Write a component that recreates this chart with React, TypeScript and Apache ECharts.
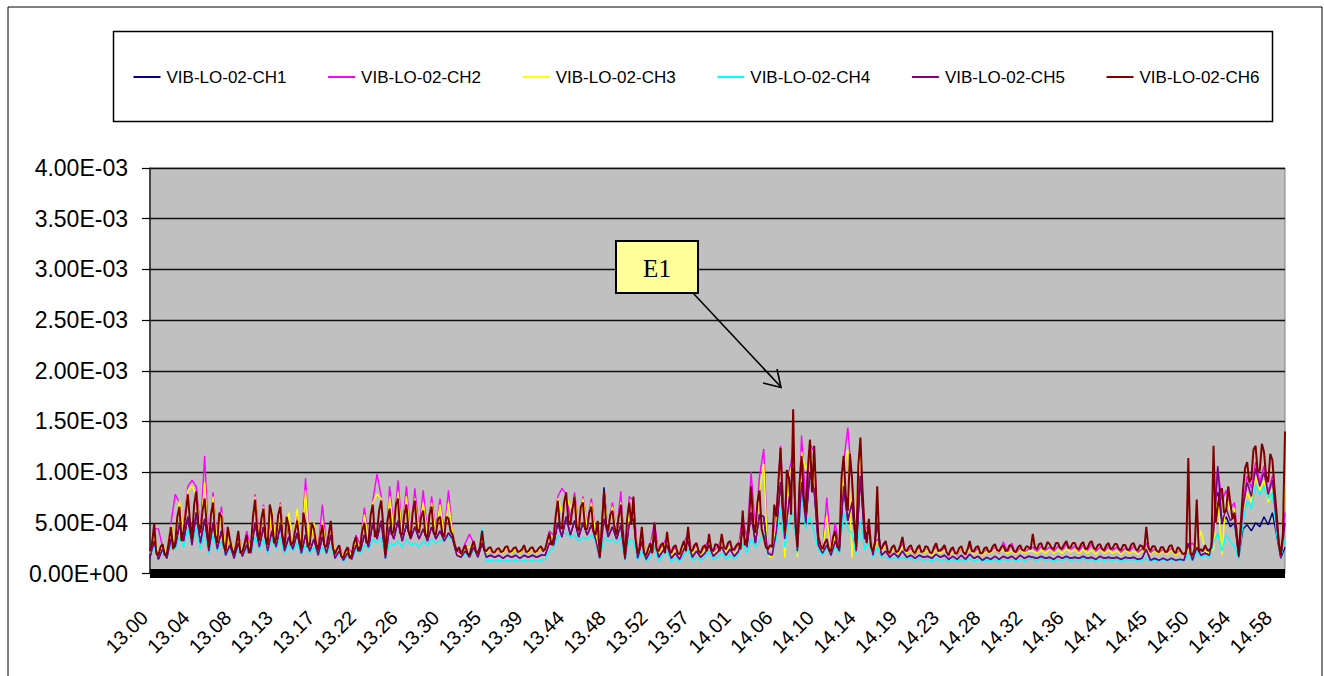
import React, { useEffect, useRef } from 'react';
import * as echarts from 'echarts';

// Tick labels of the time axis (one every 10 base samples)
const TICK_LABELS = ['13.00','13.04','13.08','13.13','13.17','13.22','13.26','13.30','13.35','13.39','13.44','13.48','13.52','13.57','14.01','14.06','14.10','14.14','14.19','14.23','14.28','14.32','14.36','14.41','14.45','14.50','14.54','14.58'];
// base samples between two labelled ticks (the record runs a little past the last label)
const TICK_STEP = 9.903;
const X_MAX = 270;

const SERIES_NAMES = ['VIB-LO-02-CH1','VIB-LO-02-CH2','VIB-LO-02-CH3','VIB-LO-02-CH4','VIB-LO-02-CH5','VIB-LO-02-CH6'];
const SERIES_COLORS = ['#000080','#FF00FF','#FFFF00','#00FFFF','#800080','#800000'];
// sample spacing of each series, in base-sample units
const SERIES_STEPS = [1, 1, 1, 1, 1, 0.5];

// Values in units of 1E-04
const CH1 = [
1.6,3.2,1.4,2.4,1.5,3.4,2.6,4.8,3.2,5.6,
2.8,6.0,3.0,5.4,2.2,5.0,2.4,4.2,1.8,2.8,
1.5,3.0,1.7,2.8,2.0,5.0,2.6,4.6,2.2,4.2,
2.6,4.8,2.2,3.6,2.4,4.0,2.0,3.8,2.2,3.4,
1.8,3.6,2.0,3.8,1.5,2.2,1.3,2.0,1.4,2.8,
2.2,3.8,2.6,5.0,3.4,5.2,1.5,4.6,3.4,5.2,
3.2,4.8,3.4,4.6,3.4,4.4,3.2,4.6,3.4,4.2,
3.2,4.0,3.4,1.8,1.6,2.2,1.6,2.6,1.6,3.0,
1.6,1.8,1.6,1.8,1.5,1.8,1.6,1.8,1.5,1.8,
1.6,1.8,1.6,1.8,1.8,3.0,2.8,5.0,3.6,5.6,
3.8,5.2,3.6,5.0,3.8,4.8,3.4,1.5,8.5,3.6,
4.6,3.4,4.8,1.4,5.0,5.4,1.5,3.2,1.4,2.2,
3.6,1.6,2.2,2.8,1.5,2.0,1.4,2.4,3.2,1.6,
2.2,1.6,2.0,2.8,1.7,2.1,2.6,1.8,2.4,1.7,
2.2,4.2,2.6,6.0,3.0,5.8,5.6,2.0,1.8,4.2,
9.0,3.4,7.2,10.4,2.2,9.0,5.0,10.0,8.2,2.8,
2.0,2.8,1.8,3.2,2.2,8.6,5.2,7.0,2.2,9.6,
3.4,4.5,1.8,5.0,1.8,2.2,1.6,2.0,1.6,2.2,
1.6,1.8,1.5,1.8,1.6,1.7,1.5,1.9,1.6,1.8,
1.4,1.7,1.4,1.8,1.4,1.9,1.5,1.7,1.3,1.6,
1.4,1.7,1.4,1.7,1.5,1.7,1.4,1.8,1.5,1.7,
1.6,1.5,1.7,1.5,1.6,1.4,1.7,1.5,1.7,1.5,
1.6,1.5,1.7,1.5,1.6,1.4,1.7,1.5,1.6,1.5,
1.6,1.4,1.6,1.5,1.6,1.4,1.5,2.4,1.3,1.5,
1.3,1.5,1.3,1.5,1.3,1.4,1.3,3.0,1.3,2.6,
1.8,2.0,1.8,4.0,8.0,5.0,5.6,4.6,5.0,1.6,
4.4,4.8,4.2,5.0,4.6,5.6,4.8,6.0,3.8,1.5,2.6
];

const CH2 = [
2.0,4.4,4.4,2.6,2.0,5.0,7.8,7.0,4.6,8.6,
9.2,8.6,4.2,11.6,2.8,8.0,3.2,6.6,2.2,3.6,
2.0,4.0,2.0,4.2,2.4,7.8,3.4,6.8,2.6,6.0,
3.6,7.0,2.8,5.0,3.2,5.8,2.6,9.4,2.8,4.8,
2.4,6.8,2.6,5.0,2.0,2.8,1.6,2.6,2.0,3.8,
2.8,6.5,3.4,7.2,9.8,7.6,2.0,8.6,4.6,9.2,
4.2,8.6,4.0,8.4,4.4,8.2,4.0,7.6,4.2,7.4,
4.0,8.2,4.0,2.2,2.0,3.0,3.9,3.0,2.0,3.6,
2.0,2.4,2.0,2.4,2.0,2.5,2.0,2.4,2.0,2.5,
2.0,2.4,2.0,2.5,2.4,4.2,3.8,7.6,8.4,7.8,
5.4,8.0,4.6,7.6,4.8,7.4,4.2,1.8,7.6,4.6,
7.0,4.0,8.1,1.8,7.6,7.2,2.0,4.2,1.8,2.8,
5.1,2.0,2.8,3.6,1.9,2.6,1.8,3.0,4.0,2.0,
2.8,1.9,2.6,3.4,2.0,2.6,3.4,2.2,2.9,2.2,
2.8,5.6,3.4,10.0,4.4,9.6,12.3,2.2,1.6,6.0,
12.6,4.6,10.0,12.0,2.6,13.6,7.0,12.8,12.0,3.4,
2.2,7.5,2.2,5.0,2.4,11.0,14.4,9.0,2.4,12.0,
4.0,5.0,2.0,3.4,2.2,3.0,1.8,2.6,2.0,3.0,
2.0,2.5,1.8,2.5,2.0,2.4,1.8,2.7,2.1,2.5,
1.7,2.4,1.8,2.5,1.8,2.8,2.0,2.5,1.8,2.4,
2.0,2.6,2.0,3.1,2.1,3.0,1.9,2.5,2.1,2.4,
2.6,2.2,2.7,2.3,2.6,2.2,2.7,2.3,2.9,2.4,
2.7,2.2,2.8,2.3,2.9,2.2,2.6,2.1,2.7,2.3,
2.6,2.1,2.5,2.2,2.7,2.1,2.4,3.0,2.0,2.4,
1.9,2.4,2.0,2.5,1.8,2.2,1.8,2.8,3.0,2.4,
2.2,2.6,2.1,3.0,10.4,7.2,8.2,6.4,7.0,2.0,
7.0,9.6,8.4,11.0,9.0,10.6,8.0,9.6,5.2,2.0,6.0
];

const CH3 = [
2.0,3.6,2.0,2.8,2.0,4.8,3.2,7.2,4.4,8.2,
8.6,7.8,4.2,9.0,2.8,7.6,3.0,6.0,2.2,3.6,
2.0,3.8,2.1,3.6,2.4,7.6,3.0,6.6,2.6,6.2,
3.2,6.8,2.8,6.0,3.0,6.4,2.4,8.2,2.6,5.0,
2.2,5.2,2.4,4.8,2.0,2.6,1.6,2.4,1.8,3.4,
2.6,5.8,3.4,7.0,7.8,7.4,1.8,7.6,4.4,8.0,
4.0,7.6,3.8,7.4,4.2,7.0,3.8,7.0,4.0,6.8,
3.8,7.0,4.0,2.0,1.8,2.6,2.6,2.8,1.9,3.4,
2.0,2.4,2.0,2.4,2.0,2.5,2.0,2.4,2.0,2.6,
2.0,2.4,2.0,2.5,2.2,3.8,3.6,7.4,6.0,7.8,
6.4,7.6,4.4,7.4,4.6,7.0,4.0,1.8,7.8,4.4,
6.6,4.0,7.0,1.7,6.2,6.0,1.9,3.8,1.8,2.6,
4.0,2.0,2.6,3.2,1.8,2.4,1.8,2.8,3.4,2.0,
2.6,1.9,2.4,3.0,2.0,2.4,3.2,2.1,2.8,2.0,
2.6,4.4,3.0,7.8,3.8,8.0,10.8,1.8,1.6,5.2,
11.8,1.6,9.6,11.0,1.6,12.0,10.2,11.6,10.8,3.2,
2.2,5.7,2.0,3.8,2.2,10.6,12.2,1.6,6.8,11.8,
4.0,4.6,2.0,3.2,2.2,2.8,1.9,2.5,2.0,2.6,
2.0,2.3,1.9,2.4,2.0,2.3,1.8,2.4,2.0,2.3,
1.8,2.2,1.9,2.6,2.0,2.4,1.9,2.3,1.8,2.2,
2.0,2.4,2.1,2.3,2.0,2.2,1.9,2.3,2.0,2.2,
2.2,2.0,2.3,2.0,2.4,2.0,2.3,2.0,2.4,2.1,
2.3,2.0,2.4,2.0,2.3,1.9,2.4,2.0,2.3,2.0,
2.2,1.9,2.3,2.0,2.2,1.9,2.2,2.4,1.9,2.2,
1.9,2.2,1.9,2.3,1.8,2.1,1.8,2.4,1.8,2.6,
4.2,2.2,2.0,2.4,7.6,1.8,7.8,6.2,6.4,1.8,
6.2,8.0,7.0,9.6,8.2,9.2,7.0,8.4,4.6,1.8,8.9
];

const CH4 = [
1.8,2.6,1.6,2.2,1.7,2.8,2.4,3.6,2.6,4.4,
2.8,4.6,2.4,4.2,2.0,3.8,2.2,3.2,1.8,2.4,
1.6,2.4,1.8,2.4,2.0,3.6,2.4,3.4,2.0,3.6,
2.4,3.6,2.0,2.8,2.2,3.0,1.9,2.8,2.0,2.6,
1.8,2.6,1.9,2.8,1.5,2.0,1.2,1.8,1.4,2.4,
2.0,2.8,2.4,3.4,3.0,3.6,1.5,3.0,2.8,3.2,
2.6,3.4,2.8,3.0,2.6,3.2,2.8,3.4,3.0,3.2,
3.2,3.6,3.4,1.8,1.6,2.0,1.6,2.4,1.6,4.5,
1.2,1.3,1.2,1.3,1.2,1.3,1.2,1.3,1.2,1.3,
1.2,1.3,1.2,1.3,1.4,2.2,2.6,3.6,3.8,4.0,
3.6,3.8,3.2,3.6,3.4,3.8,3.2,1.4,3.6,3.2,
3.4,3.0,3.6,1.3,3.4,3.2,1.3,2.2,1.2,1.6,
2.6,1.2,1.8,2.2,1.2,1.6,1.2,1.8,2.4,1.3,
1.6,1.3,1.6,2.2,1.4,1.6,2.0,1.4,1.8,1.4,
1.8,3.0,2.0,3.4,2.6,3.2,4.0,1.8,2.0,3.4,
6.4,2.6,5.0,6.0,2.0,8.1,4.4,5.6,4.0,2.4,
1.8,2.6,1.8,2.6,2.0,6.0,4.4,4.0,2.0,5.2,
2.4,3.0,1.6,2.6,1.6,1.6,1.4,1.6,1.4,1.6,
1.4,1.5,1.3,1.5,1.3,1.4,1.2,1.5,1.3,1.4,
1.2,1.4,1.2,1.4,1.2,1.5,1.2,1.4,1.2,1.3,
1.3,1.4,1.2,1.4,1.3,1.4,1.2,1.4,1.3,1.4,
1.4,1.3,1.5,1.3,1.4,1.2,1.4,1.3,1.5,1.3,
1.4,1.3,1.5,1.3,1.4,1.2,1.4,1.3,1.4,1.3,
1.4,1.2,1.4,1.3,1.4,1.2,1.3,1.5,1.2,1.3,
1.2,1.4,1.2,1.4,1.2,1.3,1.2,2.0,1.2,2.2,
1.6,1.8,1.6,3.0,4.0,2.2,3.8,3.2,2.6,1.4,
5.0,7.2,6.4,8.8,7.8,8.6,7.4,8.0,4.0,1.6,3.4
];

const CH5 = [
1.6,3.2,1.4,2.4,1.5,3.4,2.6,4.8,3.2,5.6,
2.8,6.0,3.0,5.4,2.2,5.0,2.4,4.2,1.8,2.8,
1.5,3.0,1.7,2.8,2.0,5.0,2.6,4.6,2.2,4.2,
2.6,4.8,2.2,3.6,2.4,4.0,2.0,3.8,2.2,3.4,
1.8,3.6,2.0,3.8,1.5,2.2,1.3,2.0,1.4,2.8,
2.2,3.8,2.6,5.0,3.4,5.2,1.5,4.6,3.4,5.2,
3.2,4.8,3.4,4.6,3.4,4.4,3.2,4.6,3.4,4.2,
3.2,4.0,3.4,1.8,1.6,2.2,1.6,2.6,1.6,3.0,
1.6,1.8,1.6,1.8,1.5,1.8,1.6,1.8,1.5,1.8,
1.6,1.8,1.6,1.8,1.8,3.0,2.8,5.0,3.6,5.6,
3.8,5.2,3.6,5.0,3.8,4.8,3.4,1.5,5.4,3.6,
4.6,3.4,4.8,1.4,5.0,5.4,1.5,3.2,1.4,2.2,
3.6,1.6,2.2,2.8,1.5,2.0,1.4,2.4,3.2,1.6,
2.2,1.6,2.0,2.8,1.7,2.1,2.6,1.8,2.4,1.7,
2.2,4.2,2.6,6.0,3.0,5.8,5.6,2.0,1.8,4.2,
9.0,3.4,7.2,10.4,2.2,9.0,5.0,10.0,8.2,2.8,
2.0,2.8,1.8,3.2,2.2,8.6,5.2,7.0,2.2,9.6,
3.4,4.2,1.8,5.0,1.8,2.2,1.6,2.0,1.6,2.2,
1.6,1.8,1.5,1.8,1.6,1.7,1.5,1.9,1.6,1.8,
1.4,1.7,1.4,1.8,1.4,1.9,1.5,1.7,1.3,1.6,
1.4,1.7,1.4,1.7,1.5,1.7,1.4,1.8,1.5,1.7,
1.6,1.5,1.7,1.5,1.6,1.4,1.7,1.5,1.7,1.5,
1.6,1.5,1.7,1.5,1.6,1.4,1.7,1.5,1.6,1.5,
1.6,1.4,1.6,1.5,1.6,1.4,1.5,2.4,1.3,1.5,
1.3,1.5,1.3,1.5,1.3,1.4,1.3,3.0,1.3,2.6,
1.8,2.0,1.8,4.0,10.6,5.0,6.4,5.2,5.6,1.6,
6.4,9.0,7.6,10.4,8.6,10.0,7.8,9.2,4.8,1.6,5.0
];

// CH6 is sampled twice as densely as the other channels
const CH6 = [
2.2,3.0,4.9,2.0,1.8,2.6,2.9,1.8,1.9,3.2,4.6,2.4,3.0,5.6,6.6,3.2,4.2,6.0,7.8,5.2,
3.4,6.8,8.1,5.0,4.0,6.2,7.4,4.8,2.6,5.8,7.0,3.8,3.0,6.0,5.6,2.8,2.2,4.6,3.4,2.4,
1.9,2.8,4.2,2.0,2.2,2.9,3.8,2.0,2.6,5.6,7.3,4.4,3.2,5.4,6.4,3.6,2.8,6.8,5.8,3.0,
3.4,5.8,6.6,3.8,2.6,5.6,4.6,2.8,3.0,4.2,5.2,3.4,2.4,6.0,4.8,2.6,2.8,5.0,4.4,3.0,
2.3,3.6,4.8,2.8,2.6,3.8,5.2,2.6,1.9,2.4,2.8,1.7,1.6,2.2,2.6,1.5,1.8,3.0,3.6,2.2,
2.6,4.2,5.0,3.0,3.2,5.8,6.8,3.6,4.0,6.2,7.2,4.6,1.8,5.2,6.4,3.8,4.2,6.8,7.4,4.0,
3.8,5.8,6.8,4.2,3.6,6.0,7.2,4.4,4.0,5.6,6.2,3.8,3.6,5.8,6.6,4.0,3.8,5.4,5.6,4.0,
3.6,5.6,5.4,4.2,3.8,2.8,2.2,2.6,1.9,2.3,2.8,2.0,1.8,2.6,3.2,2.2,2.0,2.6,4.2,2.4,
2.2,2.5,2.6,2.1,2.1,2.4,2.5,2.1,2.2,2.6,2.7,2.1,2.2,2.5,2.6,2.1,2.2,2.4,2.8,2.1,
2.2,2.5,2.6,2.1,2.2,2.5,2.7,2.2,2.4,3.2,4.0,2.8,3.4,5.6,7.2,4.6,4.4,7.0,8.0,5.2,
4.8,6.4,7.6,4.6,4.2,6.6,7.0,4.4,4.4,6.0,6.6,4.2,3.8,5.2,1.6,4.8,8.1,5.0,4.2,5.8,
6.2,4.6,3.8,5.6,6.8,4.0,1.6,5.4,7.0,4.8,7.6,3.4,2.0,2.6,4.6,2.0,1.8,2.4,3.0,2.0,
5.0,2.4,2.2,2.8,3.0,2.0,4.1,2.4,2.0,2.6,2.8,2.0,1.9,2.6,3.2,2.2,4.6,2.4,2.2,2.8,
3.0,2.2,2.0,2.6,2.8,2.2,3.9,2.4,2.2,2.9,2.8,2.2,3.9,2.6,2.4,3.0,3.2,2.3,2.4,2.8,
3.0,2.4,6.2,2.8,3.2,5.4,8.6,5.0,4.0,7.0,8.2,4.4,3.6,2.6,2.4,2.8,2.6,6.8,5.6,9.0,
12.4,7.0,4.2,10.2,9.4,5.8,16.2,5.0,2.6,8.8,11.6,7.6,6.0,10.4,13.2,8.0,12.6,7.4,3.6,2.8,
2.4,3.0,3.4,2.4,2.2,3.6,4.2,2.6,2.6,9.4,11.6,7.8,6.2,11.8,9.4,5.6,2.6,10.6,13.4,8.2,
4.4,3.0,5.4,2.6,2.2,3.0,8.6,2.8,2.4,2.9,3.2,2.2,2.0,2.6,2.8,2.1,2.2,2.8,3.6,2.3,
2.2,2.6,2.8,2.2,2.0,2.5,2.8,2.1,2.2,2.7,2.6,2.1,2.0,2.6,3.0,2.2,2.3,2.5,2.8,2.1,
1.8,2.4,2.6,2.0,2.0,2.5,2.7,2.1,1.9,2.4,3.2,2.2,2.2,2.6,2.7,2.0,2.0,2.5,2.6,2.1,
2.2,2.7,2.9,2.3,2.2,2.6,2.8,2.2,2.3,2.8,2.7,2.2,2.1,2.6,2.8,2.3,2.3,2.7,2.6,2.4,
3.9,2.6,2.4,2.9,3.0,2.4,2.5,3.1,2.9,2.5,2.4,3.0,3.0,2.5,2.5,2.9,3.2,2.5,2.6,3.0,
3.0,2.5,2.4,2.9,3.1,2.4,2.5,3.0,3.2,2.5,2.4,2.8,2.9,2.4,2.3,2.8,3.0,2.4,2.5,2.9,
2.9,2.4,2.3,2.8,2.8,2.3,2.4,2.9,3.0,2.4,2.3,2.8,2.7,2.3,4.6,2.6,2.2,2.7,2.7,2.2,
2.1,2.6,2.6,2.1,2.2,2.7,2.8,2.2,2.0,2.6,2.4,2.0,1.9,2.2,11.4,2.0,1.8,2.4,7.3,2.2,
2.4,2.2,2.8,2.3,2.3,2.6,12.6,5.0,6.6,8.2,8.4,6.0,6.2,8.6,7.0,5.4,6.0,4.0,1.8,5.0,
8.2,10.4,11.0,9.0,9.4,12.2,12.6,10.0,10.2,12.8,12.0,9.6,9.0,11.8,11.2,8.4,6.0,3.0,1.8,4.0,14.0
];

const SERIES_DATA = [CH1, CH2, CH3, CH4, CH5, CH6];
const SERIES_WIDTHS = [1.4, 1.4, 1.4, 1.4, 1.5, 2.0];

const ANNOTATION_TEXT = 'E1';

function formatY(v: number): string {
  if (v === 0) return '0.00E+00';
  if (v < 10) return `${v.toFixed(2)}E-04`;
  return `${(v / 10).toFixed(2)}E-03`;
}

function formatX(v: number): string {
  const k = v / TICK_STEP;
  const r = Math.round(k);
  if (Math.abs(k - r) > 1e-3) return '';
  return TICK_LABELS[r] ?? '';
}

const FONT = 'Liberation Sans, Arial, sans-serif';

export default function App() {
  const ref = useRef<HTMLDivElement>(null);
  useEffect(() => {
    if (!ref.current) return;
    const chart = echarts.init(ref.current, null, { renderer: 'svg' });
    const option: any = {
      animation: false,
      backgroundColor: '#ffffff',
      textStyle: { fontFamily: FONT },
      grid: {
        left: 150,
        right: 39,
        top: 168,
        bottom: 102.5,
        show: true,
        backgroundColor: '#C0C0C0',
        borderColor: '#808080',
        borderWidth: 1,
      },
      legend: SERIES_NAMES.map((name, k) => ({
        data: [name],
        left: 133.5 + k * 194.6,
        top: 67,
        icon: 'rect',
        itemWidth: 27,
        itemHeight: 2,
        itemGap: 6,
        padding: 0,
        selectedMode: false,
        textStyle: { fontSize: 17, color: '#000', fontFamily: FONT, lineHeight: 20, padding: [0, 0, 0, 1] },
      })),
      xAxis: {
        type: 'value',
        min: 0,
        max: X_MAX,
        interval: TICK_STEP,
        offset: 4,
        axisLine: { show: true, lineStyle: { color: '#000', width: 9, cap: 'butt' } },
        axisTick: { show: false },
        splitLine: { show: false },
        axisLabel: {
          rotate: 45,
          fontSize: 20,
          color: '#000',
          fontFamily: FONT,
          margin: 31,
          padding: [0, 8, 0, 0],
          showMinLabel: true,
          showMaxLabel: false,
          hideOverlap: false,
          formatter: formatX,
        },
      },
      yAxis: {
        type: 'value',
        min: 0,
        max: 40,
        interval: 5,
        axisLine: { show: true, lineStyle: { color: '#222', width: 1.5 } },
        axisTick: { show: true, length: 8, lineStyle: { color: '#000', width: 1.2 } },
        splitLine: { show: true, lineStyle: { color: '#111', width: 1.3 } },
        axisLabel: { fontSize: 23, color: '#000', fontFamily: FONT, margin: 22, formatter: formatY },
      },
      series: SERIES_DATA.map((d, k) => ({
        name: SERIES_NAMES[k],
        type: 'line',
        data: d.map((y, i) => [i * SERIES_STEPS[k], y]),
        color: SERIES_COLORS[k],
        symbol: 'none',
        showSymbol: false,
        lineStyle: { width: SERIES_WIDTHS[k], color: SERIES_COLORS[k] },
        emphasis: { disabled: true },
        z: 2 + k,
      })),
      graphic: [
        {
          type: 'rect',
          z: 0,
          silent: true,
          shape: { x: 8, y: 7, width: 1314, height: 700 },
          style: { fill: 'none', stroke: '#000', lineWidth: 1 },
        },
        {
          type: 'rect',
          z: 0,
          silent: true,
          shape: { x: 113.5, y: 31.5, width: 1159, height: 90 },
          style: { fill: 'none', stroke: '#000', lineWidth: 1.5 },
        },
        {
          type: 'rect',
          z: 100,
          silent: true,
          shape: { x: 616, y: 241, width: 82, height: 52 },
          style: { fill: '#FFFF99', stroke: '#000', lineWidth: 2 },
        },
        {
          type: 'text',
          z: 101,
          silent: true,
          x: 657,
          y: 268,
          style: {
            text: ANNOTATION_TEXT,
            fontFamily: 'Liberation Serif, Times New Roman, serif',
            fontSize: 25,
            fill: '#000',
            align: 'center',
            verticalAlign: 'middle',
          },
        },
        {
          type: 'line',
          z: 100,
          silent: true,
          shape: { x1: 693, y1: 293, x2: 781, y2: 387 },
          style: { stroke: '#000', lineWidth: 1.6 },
        },
        {
          type: 'polyline',
          z: 100,
          silent: true,
          shape: { points: [[763, 383], [781, 387.5], [777, 369]] },
          style: { stroke: '#000', lineWidth: 1.6, fill: 'none' },
        },
      ],
    };
    chart.setOption(option);
    return () => chart.dispose();
  }, []);
  return (
    <div
      ref={ref}
      style={{ position: 'absolute', left: 0, top: 0, width: 1324, height: 676, background: '#fff' }}
    />
  );
}
